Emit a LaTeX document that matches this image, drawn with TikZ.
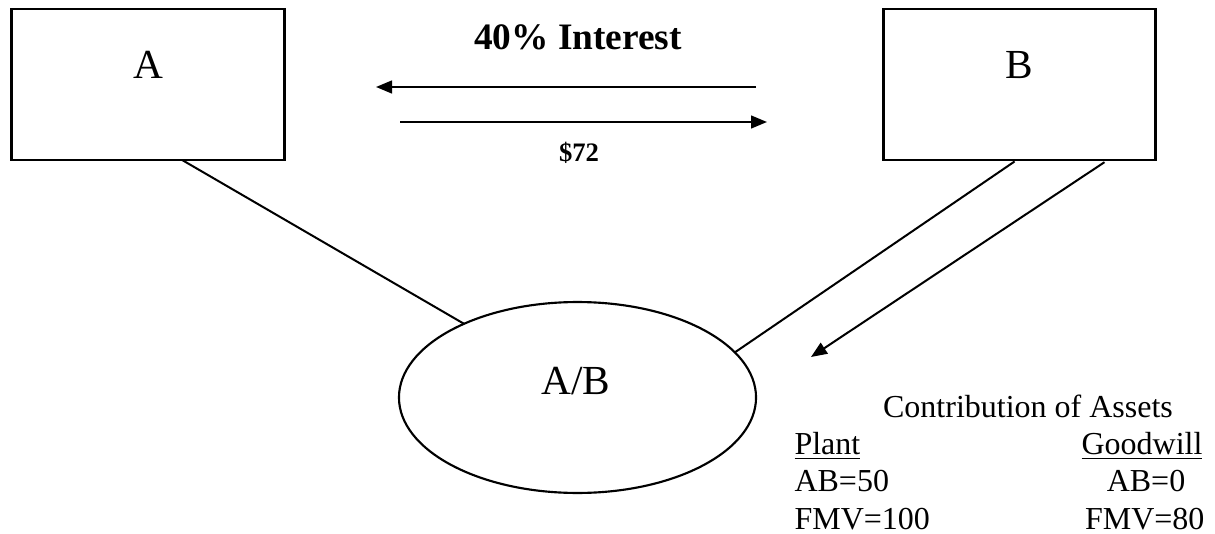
\documentclass[tikz,border=0pt]{standalone}
\usepackage{fontspec}
\setmainfont{Liberation Serif}
\usetikzlibrary{shapes.geometric,arrows.meta,calc}
\begin{document}
\begin{tikzpicture}[x=0.375pt,y=-0.375pt,
  partybox/.style={draw,line width=1pt,minimum width=102.2pt,minimum height=56.6pt,inner sep=0pt,outer sep=0pt},
  bigtext/.style={font=\fontsize{15.5}{18}\selectfont,inner sep=0pt,anchor=base},
  bodytext/.style={font=\fontsize{12}{14}\selectfont,inner sep=0pt},
  linkline/.style={line width=0.75pt},
  flowarrow/.style={line width=0.75pt,-{Triangle[length=6pt,width=4.8pt]}}]
\useasboundingbox (0,0) rectangle (1215,534);

% the two partners and the joint venture
\node[partybox] (A) at (148,84.5) {};
\node[partybox] (B) at (1019.5,84.5) {};
\node[draw,ellipse,line width=0.8pt,minimum width=133.9pt,minimum height=71.6pt,
      inner sep=0pt,outer sep=0pt] (AB) at (577.5,397.5) {};

\node[bigtext] (Alab) at (148,79) {A};
\node[bigtext] (Blab) at (1019,79) {B};
\node[bigtext] (ABlab) at (576,394) {A/B};

% exchange between A and B
\node[font=\bfseries\fontsize{14}{16}\selectfont,anchor=base,inner sep=0pt] (interest) at (578,50) {40\% Interest};
\node[font=\bfseries\fontsize{10}{12}\selectfont,anchor=base,inner sep=0pt] (pay) at (579,162) {\$72};
\coordinate (intR) at (756,87);
\coordinate (intL) at (376,87);
\coordinate (payL) at (400,122);
\coordinate (payR) at (767,122);
\draw[flowarrow] (intR) -- (intL);
\draw[flowarrow] (payL) -- (payR);

% ownership links
\draw[linkline] ($(A.south west)!0.625!(A.south east)$) -- (AB.147);
\draw[linkline,shorten <=1pt] ($(B.south west)!0.49!(B.south east)$) -- (AB.16);

% contribution from B
\coordinate (tip) at (811,357);
\draw[flowarrow,shorten <=1.5pt] ($(B.south west)!0.824!(B.south east)$) -- (tip);

% contributed assets
\node[bodytext,anchor=base] (contrib) at (1028,417) {Contribution of Assets};
\node[bodytext,anchor=base west] (plant) at (794,454) {\underline{Plant}};
\node[bodytext,anchor=base east] (goodwill) at (1203,454) {\underline{Goodwill}};
\node[bodytext,anchor=base west] (ab50) at (794,491) {AB=50};
\node[bodytext,anchor=base] (ab0) at (1146,491) {AB=0};
\node[bodytext,anchor=base west] (fmv100) at (794,529) {FMV=100};
\node[bodytext,anchor=base east] (fmv80) at (1205,529) {FMV=80};
\end{tikzpicture}
\end{document}
